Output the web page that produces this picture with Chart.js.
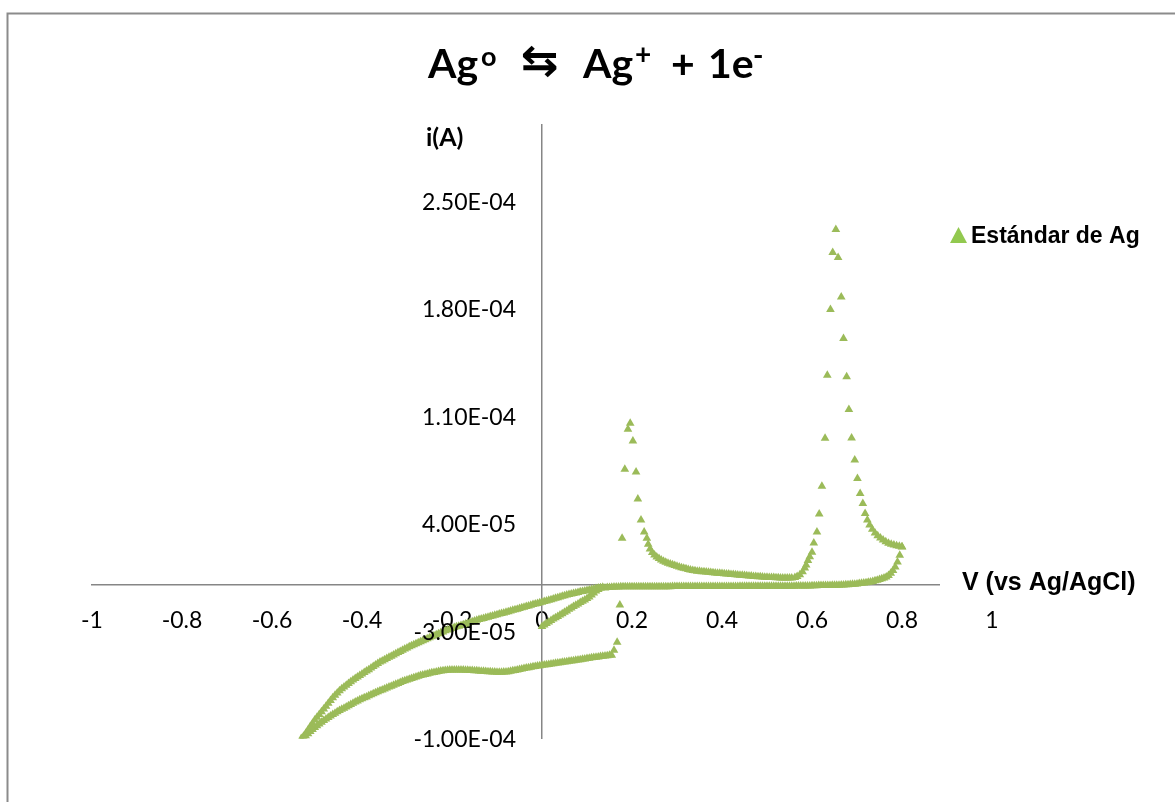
<!DOCTYPE html>
<html>
<head>
<meta charset="utf-8">
<title>Agº ⇆ Ag⁺ + 1e⁻</title>
<script src="https://cdn.jsdelivr.net/npm/chart.js@4.4.0/dist/chart.umd.min.js"></script>
<style>
  html, body { margin: 0; padding: 0; background: #fff; }
  #wrap { width: 1175px; height: 802px; }
</style>
</head>
<body>
<div id="wrap"><canvas id="cv-chart" width="1175" height="802"></canvas></div>
<script>
// Voltammogram of the Ag standard: potential in V vs Ag/AgCl, current in µA.
// The scan is split into its branches, in the order they were recorded.

// initial sweep from 0 V
var vStart = [0,0.005,0.01,0.015,0.02,0.025,0.03,0.035,0.04,0.045,0.05,0.055,0.06,0.065,0.07,0.075,0.08,0.085,0.09,0.095,0.1,0.105,0.11,0.115,0.12,0.125,0.13,0.135];
var iStart = [-27.0,-26.0,-25.0,-24.0,-23.0,-22.1,-21.2,-20.4,-19.5,-18.6,-17.7,-16.8,-15.8,-14.9,-14.0,-13.2,-12.3,-11.4,-10.5,-9.7,-8.8,-7.7,-6.5,-5.2,-3.9,-2.8,-1.9,-1.4];

// flat baseline up to the 0.8 V vertex
var vBase = [0.14,0.145,0.15,0.155,0.16,0.165,0.17,0.175,0.18,0.185,
  0.19,0.195,0.2,0.205,0.21,0.215,0.22,0.225,0.23,0.235,
  0.24,0.245,0.25,0.255,0.26,0.265,0.27,0.275,0.28,0.285,
  0.29,0.295,0.3,0.305,0.31,0.315,0.32,0.325,0.33,0.335,
  0.34,0.345,0.35,0.355,0.36,0.365,0.37,0.375,0.38,0.385,
  0.39,0.395,0.4,0.405,0.41,0.415,0.42,0.425,0.43,0.435,
  0.44,0.445,0.45,0.455,0.46,0.465,0.47,0.475,0.48,0.485,
  0.49,0.495,0.5,0.505,0.51,0.515,0.52,0.525,0.53,0.535,
  0.54,0.545,0.55,0.555,0.56,0.565,0.57,0.575,0.58,0.585,
  0.59,0.595,0.6,0.605,0.61,0.615,0.62,0.625,0.63,0.635,
  0.64,0.645,0.65,0.655,0.66,0.665,0.67,0.675,0.68,0.685,
  0.69,0.695,0.7,0.705,0.71,0.715,0.72,0.725,0.73,0.735,
  0.74,0.745,0.75,0.755,0.76,0.765,0.77,0.775,0.78,0.785,
  0.79,0.795,0.8];
var iBase = [-1.8,-1.6,-1.5,-1.4,-1.3,-1.2,-1.2,-1.1,-1.1,-1.0,
  -1.0,-1.0,-1.0,-1.0,-1.0,-1.0,-1.0,-1.0,-1.0,-1.0,
  -1.0,-1.0,-1.0,-1.0,-1.0,-1.0,-1.0,-1.0,-1.0,-1.0,
  -0.9,-0.9,-0.9,-0.9,-0.9,-0.9,-0.9,-0.9,-0.9,-0.9,
  -0.9,-0.9,-0.9,-0.9,-0.9,-0.9,-0.9,-0.9,-0.9,-0.9,
  -0.9,-0.9,-0.9,-0.9,-0.9,-0.9,-0.9,-0.9,-0.9,-0.9,
  -0.8,-0.8,-0.8,-0.8,-0.8,-0.8,-0.8,-0.8,-0.8,-0.8,
  -0.8,-0.8,-0.8,-0.8,-0.8,-0.8,-0.8,-0.8,-0.8,-0.8,
  -0.7,-0.7,-0.7,-0.7,-0.7,-0.6,-0.6,-0.6,-0.6,-0.5,
  -0.5,-0.5,-0.4,-0.4,-0.4,-0.3,-0.3,-0.3,-0.2,-0.2,
  -0.2,-0.1,-0.1,0.0,0.0,0.1,0.1,0.2,0.3,0.4,
  0.5,0.6,0.8,1.0,1.2,1.4,1.6,1.8,2.0,2.4,
  2.8,3.2,3.7,4.1,4.6,5.3,6.3,7.8,9.5,11.8,
  15.0,19.5,24.8];

// return through the large peak near 0.65 V
var vPeakB = [0.8,0.794,0.788,0.782,0.776,0.77,0.764,0.758,0.752,0.746,0.74,0.734,0.728,0.723,0.718,0.713,0.707,0.701,0.695,0.688,0.682,0.677,0.67,0.665,0.658,0.653,0.646,0.641,0.634,0.629,0.622,0.616,0.611,0.604,0.6,0.595,0.591,0.587,0.584,0.579,0.573,0.567,0.562];
var iPeakB = [25.0,25.3,25.7,26.1,26.6,27.3,28.3,29.5,30.8,32.2,34.0,36.5,39.2,42.5,46.7,53.3,59.8,69.6,81.5,96.0,114.5,135.8,160.8,187.9,213.6,231.9,216.9,179.7,136.9,95.8,64.5,46.3,34.6,27.4,21.5,18.5,16.0,13.2,11.1,8.8,6.8,5.6,5.0];

// plateau between the two peaks
var vPlateau = [0.555,0.55,0.545,0.54,0.535,0.53,0.525,0.52,0.515,0.51,
  0.505,0.5,0.495,0.49,0.485,0.48,0.475,0.47,0.465,0.46,
  0.455,0.45,0.445,0.44,0.435,0.43,0.425,0.42,0.415,0.41,
  0.405,0.4,0.395,0.39,0.385,0.38,0.375,0.37,0.365,0.36,
  0.355,0.35,0.345,0.34,0.335,0.33,0.325,0.32,0.315,0.31,
  0.305,0.3,0.295,0.29,0.285,0.28,0.275,0.27,0.265,0.26,
  0.255,0.25,0.245,0.24];
var iPlateau = [4.6,4.6,4.6,4.6,4.7,4.7,4.8,4.8,4.9,5.0,
  5.0,5.1,5.2,5.3,5.4,5.5,5.6,5.7,5.9,6.0,
  6.1,6.2,6.4,6.5,6.6,6.8,6.9,7.0,7.2,7.3,
  7.4,7.5,7.7,7.8,7.9,8.1,8.2,8.4,8.5,8.7,
  8.8,9.0,9.1,9.4,9.6,9.9,10.2,10.6,11.0,11.4,
  11.8,12.3,12.8,13.3,13.7,14.2,14.9,15.6,16.4,17.3,
  18.3,19.6,21.3,23.5];

// small peak near 0.2 V and the drop into the negative currents
var vPeakA = [0.236,0.233,0.227,0.22,0.213,0.209,0.202,0.196,0.191,0.184,0.178,0.173,0.167,0.16];
var iPeakA = [26.7,30.6,34.6,42.4,56.1,73.7,93.9,105.6,101.7,75.6,30.6,-13.0,-37.2,-42.4];

// lower branch down to the -0.535 V vertex
var vLowerLeft = [0.155,0.15,0.145,0.14,0.135,0.13,0.125,0.12,0.115,0.11,
  0.105,0.1,0.095,0.09,0.085,0.08,0.075,0.07,0.065,0.06,
  0.055,0.05,0.045,0.04,0.035,0.03,0.025,0.02,0.015,0.01,
  0.005,0,-0.005,-0.01,-0.015,-0.02,-0.025,-0.03,-0.035,-0.04,
  -0.045,-0.05,-0.055,-0.06,-0.065,-0.07,-0.075,-0.08,-0.085,-0.09,
  -0.095,-0.1,-0.105,-0.11,-0.115,-0.12,-0.125,-0.13,-0.135,-0.14,
  -0.145,-0.15,-0.155,-0.16,-0.165,-0.17,-0.175,-0.18,-0.185,-0.19,
  -0.195,-0.2,-0.205,-0.21,-0.215,-0.22,-0.225,-0.23,-0.235,-0.24,
  -0.245,-0.25,-0.255,-0.26,-0.265,-0.27,-0.275,-0.28,-0.285,-0.29,
  -0.295,-0.3,-0.305,-0.31,-0.315,-0.32,-0.325,-0.33,-0.335,-0.34,
  -0.345,-0.35,-0.355,-0.36,-0.365,-0.37,-0.375,-0.38,-0.385,-0.39,
  -0.395,-0.4,-0.405,-0.41,-0.415,-0.42,-0.425,-0.43,-0.435,-0.44,
  -0.445,-0.45,-0.455,-0.46,-0.465,-0.47,-0.475,-0.48,-0.485,-0.49,
  -0.495,-0.5,-0.505,-0.51,-0.515,-0.52,-0.525,-0.53,-0.535];
var iLowerLeft = [-45.7,-45.8,-46.0,-46.2,-46.4,-46.6,-46.8,-47.0,-47.2,-47.4,
  -47.7,-47.9,-48.1,-48.3,-48.6,-48.8,-49.0,-49.3,-49.5,-49.7,
  -49.9,-50.1,-50.3,-50.6,-50.8,-51.0,-51.2,-51.5,-51.7,-51.9,
  -52.1,-52.3,-52.6,-52.8,-53.0,-53.2,-53.5,-53.8,-54.1,-54.4,
  -54.7,-55.0,-55.3,-55.6,-55.9,-56.2,-56.4,-56.6,-56.7,-56.8,
  -56.8,-56.8,-56.7,-56.6,-56.5,-56.4,-56.3,-56.2,-56.1,-56.0,
  -55.9,-55.8,-55.7,-55.6,-55.5,-55.5,-55.4,-55.4,-55.4,-55.4,
  -55.4,-55.4,-55.4,-55.5,-55.6,-55.8,-56.0,-56.3,-56.6,-56.9,
  -57.2,-57.5,-57.9,-58.2,-58.6,-59.0,-59.4,-59.9,-60.4,-60.9,
  -61.4,-61.9,-62.4,-62.9,-63.5,-64.1,-64.7,-65.3,-65.9,-66.5,
  -67.1,-67.7,-68.3,-68.9,-69.5,-70.2,-70.9,-71.5,-72.2,-72.9,
  -73.5,-74.1,-74.8,-75.5,-76.2,-77.0,-77.8,-78.6,-79.4,-80.2,
  -81.0,-81.8,-82.6,-83.5,-84.4,-85.3,-86.3,-87.3,-88.3,-89.4,
  -90.5,-91.7,-92.9,-94.2,-95.5,-96.9,-98.3,-99.7,-101.0];

// upper branch back from the vertex to the baseline
var vUpperLeft = [-0.535,-0.53,-0.525,-0.52,-0.515,-0.51,-0.505,-0.5,-0.495,-0.49,
  -0.485,-0.48,-0.475,-0.47,-0.465,-0.46,-0.455,-0.45,-0.445,-0.44,
  -0.435,-0.43,-0.425,-0.42,-0.415,-0.41,-0.405,-0.4,-0.395,-0.39,
  -0.385,-0.38,-0.375,-0.37,-0.365,-0.36,-0.355,-0.35,-0.345,-0.34,
  -0.335,-0.33,-0.325,-0.32,-0.315,-0.31,-0.305,-0.3,-0.295,-0.29,
  -0.285,-0.28,-0.275,-0.27,-0.265,-0.26,-0.255,-0.25,-0.245,-0.24,
  -0.235,-0.23,-0.225,-0.22,-0.215,-0.21,-0.205,-0.2,-0.195,-0.19,
  -0.185,-0.18,-0.175,-0.17,-0.165,-0.16,-0.155,-0.15,-0.145,-0.14,
  -0.135,-0.13,-0.125,-0.12,-0.115,-0.11,-0.105,-0.1,-0.095,-0.09,
  -0.085,-0.08,-0.075,-0.07,-0.065,-0.06,-0.055,-0.05,-0.045,-0.04,
  -0.035,-0.03,-0.025,-0.02,-0.015,-0.01,-0.005,0,0.005,0.01,
  0.015,0.02,0.025,0.03,0.035,0.04,0.045,0.05,0.055,0.06,
  0.065,0.07,0.075,0.08,0.085,0.09,0.095,0.1,0.105,0.11,
  0.115,0.12,0.125,0.13];
var iUpperLeft = [-100.0,-98.5,-96.5,-94.4,-92.2,-90.1,-88.0,-86.1,-84.3,-82.5,
  -80.7,-78.9,-77.0,-75.2,-73.4,-71.8,-70.3,-68.9,-67.6,-66.4,
  -65.2,-64.1,-63.0,-61.9,-60.9,-59.9,-58.9,-58.0,-57.0,-56.0,
  -55.1,-54.1,-53.1,-52.1,-51.1,-50.2,-49.4,-48.6,-47.8,-47.0,
  -46.3,-45.5,-44.7,-44.0,-43.2,-42.4,-41.7,-41.0,-40.2,-39.5,
  -38.8,-38.2,-37.5,-36.9,-36.2,-35.6,-34.9,-34.3,-33.6,-33.0,
  -32.4,-31.7,-31.1,-30.5,-29.8,-29.2,-28.7,-28.2,-27.7,-27.2,
  -26.8,-26.3,-25.8,-25.3,-24.8,-24.4,-23.9,-23.4,-22.9,-22.4,
  -22.1,-21.7,-21.3,-20.9,-20.5,-20.1,-19.7,-19.3,-18.9,-18.5,
  -18.1,-17.7,-17.3,-16.9,-16.4,-16.1,-15.7,-15.2,-14.8,-14.4,
  -14.0,-13.6,-13.2,-12.7,-12.3,-11.9,-11.5,-11.1,-10.7,-10.3,
  -9.9,-9.5,-9.0,-8.6,-8.2,-7.8,-7.3,-6.9,-6.5,-6.1,
  -5.8,-5.4,-5.1,-4.8,-4.4,-4.1,-3.8,-3.5,-3.1,-2.8,
  -2.5,-2.2,-1.9,-1.7];

var xTicks = [-1, -0.8, -0.6, -0.4, -0.2, 0, 0.2, 0.4, 0.6, 0.8, 1];
var xTickLabels = ['-1', '-0.8', '-0.6', '-0.4', '-0.2', '0', '0.2', '0.4', '0.6', '0.8', '1'];
var yTicks = [-1.0e-4, -3.0e-5, 4.0e-5, 1.1e-4, 1.8e-4, 2.5e-4];
var yTickLabels = ['-1.00E-04', '-3.00E-05', '4.00E-05', '1.10E-04', '1.80E-04', '2.50E-04'];

var seriesName = 'Estándar de Ag';
var markerColor = '#9BBB59';

// join the branches and convert µA to A
var scanV = [].concat(vStart, vBase, vPeakB, vPlateau, vPeakA, vLowerLeft, vUpperLeft);
var scanI = [].concat(iStart, iBase, iPeakB, iPlateau, iPeakA, iLowerLeft, iUpperLeft);
var points = scanV.map(function (v, k) { return { x: v, y: scanI[k] * 1e-6 }; });

var cvText = {
  id: 'cvText',
  beforeDraw: function (chart) {
    var ctx = chart.ctx;
    ctx.save();
    // outer frame, open to the right and bottom
    ctx.strokeStyle = '#8b8b8b';
    ctx.lineWidth = 2;
    ctx.strokeRect(7.5, 13.5, chart.width + 40, chart.height + 40);
    ctx.restore();
  },
  afterDatasetsDraw: function (chart) {
    var ctx = chart.ctx;
    var ys = chart.scales.y;
    var x0 = chart.scales.x.getPixelForValue(0);
    ctx.save();
    ctx.font = '23px Lato';
    ctx.fillStyle = '#000';
    ctx.textAlign = 'right';
    ctx.textBaseline = 'middle';
    ys.ticks.forEach(function (t, k) {
      ctx.fillText(yTickLabels[k], x0 - 26, ys.getPixelForValue(t.value) + 1);
    });
    ctx.restore();
  },
  afterDraw: function (chart) {
    var ctx = chart.ctx;
    ctx.save();
    ctx.fillStyle = '#000';
    ctx.textAlign = 'left';
    ctx.textBaseline = 'alphabetic';

    // title: Ag(o) <=> Ag(+) + 1e(-)
    var base = 78;
    var parts = [
      ['Ag', 428, 41, 0], ['o', 481, 27, 12],
      ['Ag', 583, 41, 0], ['+', 635, 28, 14],
      ['+', 671, 41, 0], ['1e', 708, 41, 0], ['-', 753, 28, 13]
    ];
    parts.forEach(function (p) {
      ctx.font = 'bold ' + p[2] + 'px Lato';
      ctx.fillText(p[0], p[1], base - p[3]);
    });
    ctx.font = 'bold 40px "DejaVu Sans"';
    var m = ctx.measureText('\u21C6');
    var bw = m.actualBoundingBoxLeft + m.actualBoundingBoxRight;
    var bh = m.actualBoundingBoxAscent + m.actualBoundingBoxDescent;
    ctx.save();
    ctx.translate(522, 45);
    ctx.scale(35 / bw, 33 / bh);
    ctx.fillText('\u21C6', m.actualBoundingBoxLeft, m.actualBoundingBoxAscent);
    ctx.restore();

    // y axis title
    ctx.font = 'bold 25px Lato';
    ctx.fillText('i(A)', 426, 146);

    // x axis title sits over the end of the axis line
    ctx.fillStyle = '#fff';
    ctx.fillRect(940, 566, 215, 34);
    ctx.fillStyle = '#000';
    ctx.font = 'bold 25px "Liberation Sans"';
    ctx.fillText('V (vs Ag/AgCl)', 962, 590);

    // legend
    ctx.fillStyle = '#92C94F';
    ctx.beginPath();
    ctx.moveTo(950, 243);
    ctx.lineTo(967, 243);
    ctx.lineTo(958.5, 227);
    ctx.closePath();
    ctx.fill();
    ctx.fillStyle = '#000';
    ctx.font = 'bold 23px "Liberation Sans"';
    ctx.fillText(seriesName, 971, 243);
    ctx.restore();
  }
};

new Chart(document.getElementById('cv-chart'), {
  type: 'scatter',
  data: {
    datasets: [{
      label: seriesName,
      data: points,
      pointStyle: 'triangle',
      pointRadius: 5,
      pointBorderWidth: 0,
      backgroundColor: markerColor,
      borderColor: markerColor,
      showLine: false
    }]
  },
  options: {
    responsive: false,
    animation: false,
    layout: { padding: { left: 92, right: 183, top: 125, bottom: 63.5 } },
    plugins: {
      legend: { display: false },
      title: { display: false },
      tooltip: { enabled: false }
    },
    scales: {
      x: {
        type: 'linear',
        min: -1,
        max: 1,
        position: { y: 0 },
        grid: { display: false, drawTicks: false },
        border: { color: '#868686', width: 1.5 },
        afterBuildTicks: function (scale) {
          scale.ticks = xTicks.map(function (v) { return { value: v }; });
        },
        ticks: {
          autoSkip: false,
          maxRotation: 0,
          padding: 22,
          color: '#000',
          font: { family: 'Lato', size: 23 },
          callback: function (value, index) { return xTickLabels[index]; }
        }
      },
      y: {
        type: 'linear',
        min: -1.0e-4,
        max: 3.0e-4,
        position: { x: 0 },
        grid: { display: false, drawTicks: false },
        border: { color: '#868686', width: 1.5 },
        afterBuildTicks: function (scale) {
          scale.ticks = yTicks.map(function (v) { return { value: v }; });
        },
        ticks: { display: false }
      }
    }
  },
  plugins: [cvText]
});
</script>
</body>
</html>
